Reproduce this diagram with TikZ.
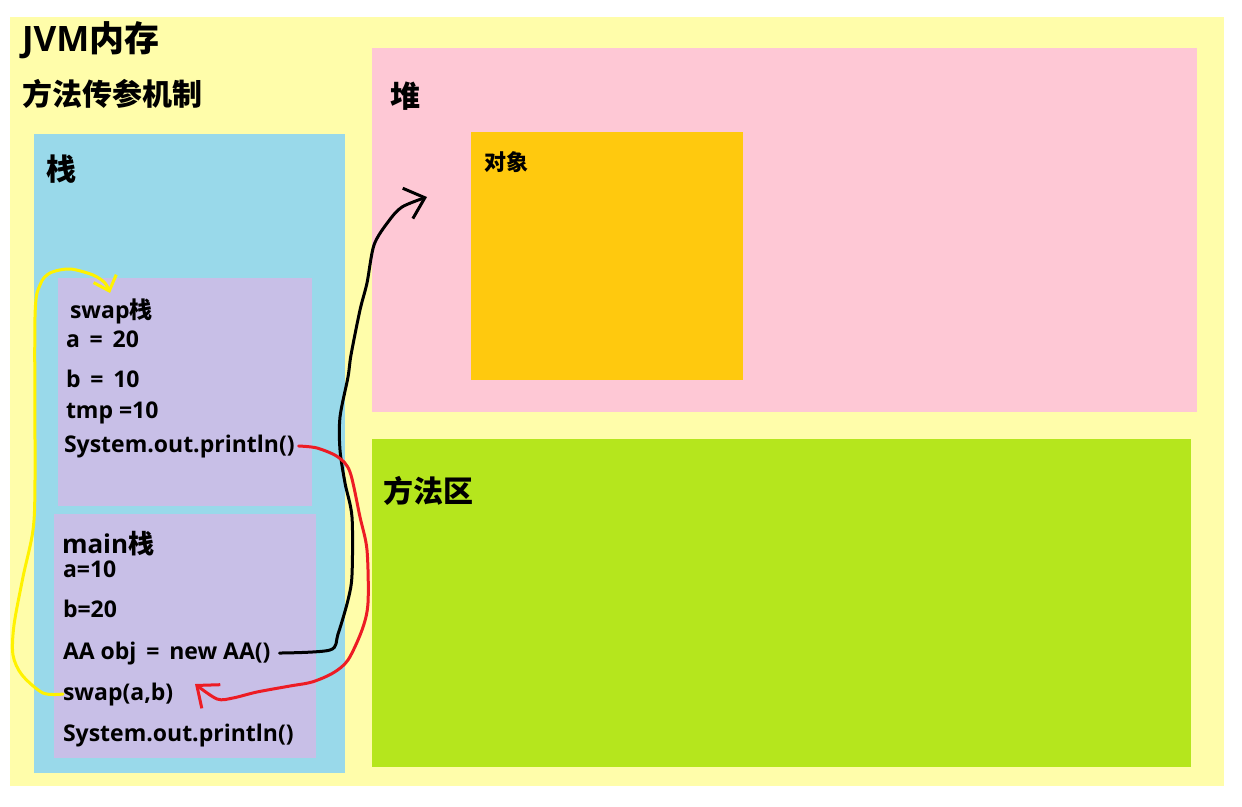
\documentclass[tikz,border=0pt]{standalone}
\usepackage{fontspec}
\setmainfont{Open Sans}[BoldFont={Open Sans Bold}]
\newfontfamily\cjk{Noto Sans CJK SC}
\usetikzlibrary{arrows.meta}
\definecolor{jvmbg}{HTML}{FFFDAA}
\definecolor{heapbg}{HTML}{FEC8D5}
\definecolor{objbg}{HTML}{FFC90E}
\definecolor{methbg}{HTML}{B5E61D}
\definecolor{stackbg}{HTML}{99D9EA}
\definecolor{framebg}{HTML}{C8BFE7}
\definecolor{penyellow}{HTML}{FFF200}
\definecolor{penred}{HTML}{ED1C24}
\begin{document}
\begin{tikzpicture}[x=1pt, y=-1pt, >=stealth,
  area/.style={anchor=north west, inner sep=0pt, outer sep=0pt},
  txt/.style={anchor=base west, inner sep=0pt, outer sep=0pt},
  big/.style={txt, font=\bfseries\fontsize{35}{38}\selectfont},
  head/.style={txt, font=\cjk\bfseries\fontsize{30}{34}\selectfont},
  code/.style={txt, font=\bfseries\fontsize{23}{26}\selectfont},
  pen/.style={line width=3pt, line cap=round, line join=round}]
\useasboundingbox (0,0) rectangle (1242,806);
\fill[white] (0,0) rectangle (1242,806);

\node[area, fill=jvmbg, minimum width=1214pt, minimum height=769pt](jvm) at (10,17){};
\node[area, fill=heapbg, minimum width=825pt, minimum height=364pt](heap) at (372,48){};
\node[area, fill=objbg, minimum width=272pt, minimum height=248pt](obj) at (471,132){};
\node[area, fill=methbg, minimum width=819pt, minimum height=328pt](meth) at (372,439){};
\node[area, fill=stackbg, minimum width=311pt, minimum height=639pt](stack) at (34,134){};
\node[area, fill=framebg, minimum width=254pt, minimum height=228pt](swapf) at (58,278){};
\node[area, fill=framebg, minimum width=262pt, minimum height=244pt](mainf) at (54,514){};

\node[big](jvmt) at (22,51){JVM{\cjk 内存}};
\node[head](parat) at (22,105){方法传参机制};
\node[head](stackt) at (46,180){栈};
\node[head](heapt) at (390,107){堆};
\node[txt, font=\cjk\bfseries\fontsize{22}{24}\selectfont](objt) at (484,170){对象};
\node[head](metht) at (383,502){方法区};

% swap栈
\node[code](swapt) at (70,318){swap{\cjk 栈}};
\node[code](sa) at (66,347){a \,=\, 20};
\node[code](sb) at (66,387){b \,=\, 10};
\node[code](stmp) at (66,418){tmp =10};
\node[code](sprint) at (64,452){System.out.println()};

% main栈
\node[code, font=\bfseries\fontsize{26}{28}\selectfont](maint) at (62,553){main{\cjk 栈}};
\node[code](ma) at (63,577){a=10};
\node[code](mb) at (63,617){b=20};
\node[code](newobj) at (63,659){AA obj \,=\, new AA()};
\node[code](swapcall) at (63,700){swap(a,b)};
\node[code](mprint) at (63,741){System.out.println()};

\coordinate (objtip) at (427,197);
\coordinate (calltip) at (195,684);
\coordinate (swaptip) at (110,293);

\draw[pen, -{Straight Barb[length=18pt, width=32pt]}] plot[smooth, tension=0.5] coordinates {([xshift=9pt]newobj.east) (330,650) (338,634) (348,600) (352,575) (352,517) (345,483) (340,450) (340,417) (348,377) (351,355) (360,310) (367,283) (374,245) (388,222) (402,207) (objtip)};
\draw[pen, penred, -{Straight Barb[length=18pt, width=30pt]}] plot[smooth, tension=0.5] coordinates {([xshift=4pt]sprint.east) (317,448) (338,457) (350,472) (360,517) (367,550) (368,603) (362,630) (348,660) (333,673) (312,682) (290,686) (257,692) (233,698) (217,699) (calltip)};
\draw[pen, penyellow, -{Straight Barb[length=13pt, width=24pt]}] plot[smooth, tension=0.5] coordinates {(swapcall.west) (43,693) (22,675) (13,655) (14,625) (23,577) (33,530) (35,480) (35,317) (40,285) (50,273) (70,269) (93,275) (105,283) (swaptip)};
\end{tikzpicture}
\end{document}
